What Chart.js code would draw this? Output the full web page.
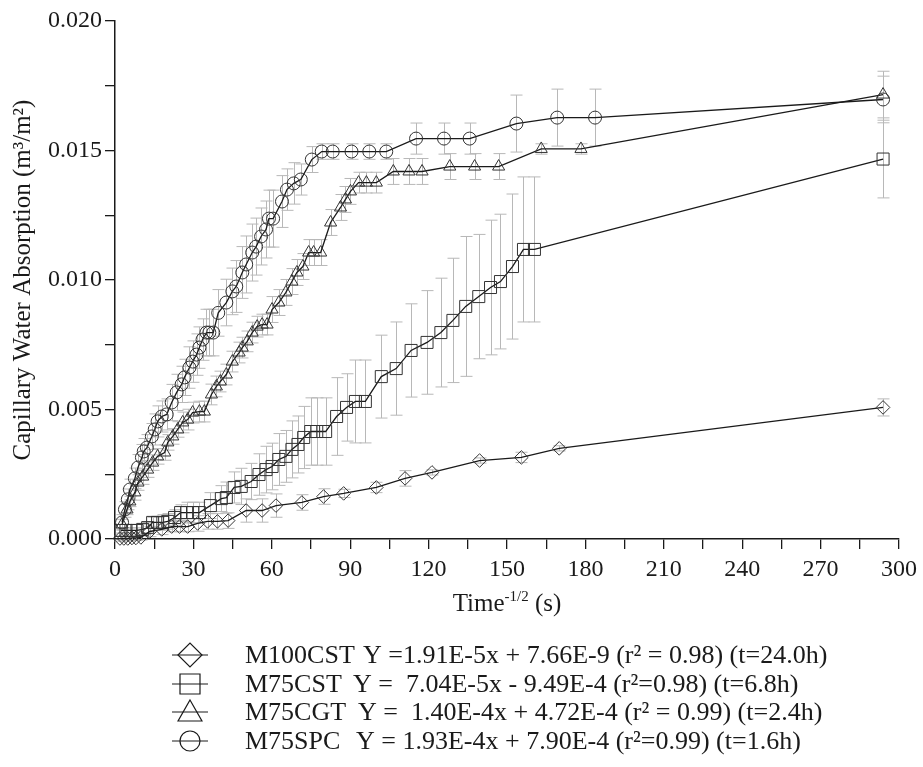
<!DOCTYPE html>
<html>
<head>
<meta charset="utf-8">
<script src="https://cdn.jsdelivr.net/npm/chart.js@4.4.1/dist/chart.umd.min.js"></script>
<style>
  html, body { margin: 0; padding: 0; background: #fff; }
</style>
</head>
<body>
<canvas id="chart" width="923" height="767"></canvas>
<script>
// --- DATA ---
// x = Time^-1/2 (s), y = capillary water absorption (m3/m2), err = +/- error bar
const m100cstX = [1.9, 3.4, 4.9, 6.5, 8.0, 9.9, 13.3, 17.9, 21.7, 24.7,
  27.8, 31.6, 35.4, 39.2, 43.3, 50.2, 56.3, 61.6, 71.5, 79.8,
  87.5, 100.0, 111.0, 121.3, 139.5, 155.5, 170.0, 293.9];
const m100cstY = [0.00002, 0.00002, 0.00002, 0.00004, 0.00004, 0.00006, 0.00029, 0.00037, 0.00048, 0.00048,
  0.00048, 0.0006, 0.00068, 0.00068, 0.00071, 0.0011, 0.0011, 0.00129, 0.00141, 0.00164,
  0.00176, 0.00199, 0.00234, 0.00257, 0.00303, 0.00315, 0.0035, 0.00508];
const m100cstErr = [0.0001, 0.0001, 0.0001, 0.0001, 0.0001, 0.0001, 0.0002, 0.0002, 0.0002, 0.0002,
  0.0002, 0.0003, 0.0003, 0.0003, 0.0003, 0.00045, 0.00045, 0.00045, 0.0003, 0.0003,
  0.00016, 0.0002, 0.0003, 0.0001, 0.0001, 0.0002, 0.0001, 0.00033];

const m75cstX = [2.3, 4.2, 6.1, 8.4, 10.6, 12.5, 14.4, 16.3, 18.3, 20.2,
  22.8, 25.1, 27.4, 29.7, 32.3, 36.5, 40.7, 42.6, 45.6, 48.3,
  52.1, 55.1, 57.8, 60.1, 62.7, 65.4, 67.7, 70.0, 72.2, 74.9,
  77.2, 80.6, 84.8, 88.6, 92.0, 95.8, 101.9, 107.6, 113.3, 119.4,
  124.7, 129.3, 134.2, 139.2, 143.7, 147.5, 152.1, 156.3, 160.5, 293.9];
const m75cstY = [0.00033, 0.00033, 0.00033, 0.00033, 0.00037, 0.00044, 0.00064, 0.00064, 0.00064, 0.00068,
  0.00083, 0.00102, 0.00102, 0.00102, 0.00102, 0.00129, 0.00156, 0.0016, 0.00199, 0.00203,
  0.00222, 0.00249, 0.00268, 0.0028, 0.00307, 0.00319, 0.00346, 0.00365, 0.00392, 0.00415,
  0.00415, 0.00415, 0.00473, 0.00508, 0.00531, 0.00531, 0.00627, 0.00658, 0.00728, 0.00759,
  0.00797, 0.00844, 0.00898, 0.00936, 0.00971, 0.00994, 0.01052, 0.01118, 0.01118, 0.01467];
const m75cstErr = [0.0001, 0.0001, 0.0001, 0.0001, 0.0002, 0.0002, 0.0002, 0.0002, 0.0003, 0.0003,
  0.0003, 0.0003, 0.0004, 0.0004, 0.0004, 0.0005, 0.0005, 0.0006, 0.0006, 0.0007,
  0.0007, 0.0008, 0.0009, 0.0009, 0.001, 0.001, 0.0011, 0.0011, 0.0012, 0.0013,
  0.0013, 0.0013, 0.0015, 0.0013, 0.0016, 0.0016, 0.0016, 0.0018, 0.0018, 0.002,
  0.0021, 0.0024, 0.0027, 0.0024, 0.0026, 0.0026, 0.0028, 0.0028, 0.0028, 0.0015];

const m75cgtX = [2.7, 4.6, 5.7, 7.6, 8.8, 10.6, 12.5, 14.4, 16.3, 19.0,
  20.2, 22.1, 24.0, 25.9, 27.8, 29.7, 32.3, 34.2, 36.9, 38.8,
  40.3, 42.6, 44.9, 47.5, 48.7, 50.6, 52.5, 54.4, 56.3, 58.2,
  60.1, 62.7, 65.4, 67.7, 69.6, 71.9, 74.1, 76.0, 78.7, 82.5,
  86.3, 88.2, 90.1, 93.2, 96.2, 100.0, 106.5, 112.5, 117.5, 128.1,
  137.6, 146.8, 163.1, 178.3, 293.9];
const m75cgtY = [0.00056, 0.00114, 0.00145, 0.0018, 0.00218, 0.00241, 0.00268, 0.00295, 0.00319, 0.00334,
  0.00373, 0.00396, 0.00423, 0.0045, 0.00461, 0.00488, 0.00492, 0.00492, 0.00558, 0.00589,
  0.00608, 0.00635, 0.00685, 0.0072, 0.00739, 0.00763, 0.00797, 0.0082, 0.00828, 0.00828,
  0.00886, 0.00913, 0.00952, 0.00994, 0.01029, 0.01052, 0.01106, 0.01106, 0.01106, 0.01222,
  0.0128, 0.01311, 0.01342, 0.01376, 0.01376, 0.01376, 0.01419, 0.01419, 0.01419, 0.01438,
  0.01438, 0.01438, 0.01506, 0.01506, 0.01716];
const m75cgtErr = [0.0002, 0.0002, 0.0002, 0.0003, 0.0003, 0.0003, 0.0003, 0.0003, 0.0003, 0.0003,
  0.0003, 0.0003, 0.0003, 0.0004, 0.0004, 0.0004, 0.0004, 0.0004, 0.0004, 0.0004,
  0.0004, 0.0004, 0.0004, 0.0004, 0.0004, 0.0004, 0.0004, 0.0004, 0.0004, 0.0004,
  0.0005, 0.0005, 0.0005, 0.0005, 0.0005, 0.0005, 0.0005, 0.0005, 0.0005, 0.0005,
  0.0005, 0.0005, 0.0005, 0.0004, 0.0004, 0.0004, 0.0005, 0.0005, 0.0005, 0.0005,
  0.0005, 0.0005, 0.0002, 0.0002, 0.0009];

const m75spcX = [2.7, 3.8, 4.9, 5.7, 7.6, 8.8, 10.3, 11.0, 12.2, 14.1,
  15.2, 16.3, 17.9, 19.8, 21.7, 23.6, 25.5, 26.6, 28.5, 29.7,
  31.2, 32.3, 33.5, 35.0, 36.1, 37.6, 39.5, 42.6, 44.9, 46.4,
  48.7, 50.2, 52.5, 54.0, 55.9, 57.8, 58.9, 60.5, 63.9, 65.8,
  68.4, 71.1, 75.3, 79.1, 83.3, 90.5, 97.3, 103.8, 115.2, 125.9,
  135.7, 153.6, 169.2, 183.7, 293.9];
const m75spcY = [0.00064, 0.00114, 0.00153, 0.00191, 0.00234, 0.00276, 0.00315, 0.00338, 0.00353, 0.00396,
  0.00423, 0.00454, 0.00473, 0.00481, 0.00527, 0.00566, 0.00597, 0.00624, 0.00662, 0.00685,
  0.00712, 0.00739, 0.0077, 0.00797, 0.00797, 0.00797, 0.00873, 0.00913, 0.00956, 0.00975,
  0.01029, 0.0106, 0.01106, 0.01129, 0.01168, 0.01195, 0.01237, 0.01237, 0.01303, 0.01349,
  0.01373, 0.01388, 0.01465, 0.01496, 0.01496, 0.01496, 0.01496, 0.01496, 0.01546, 0.01546,
  0.01546, 0.01604, 0.01627, 0.01627, 0.01697];
const m75spcErr = [0.0003, 0.0003, 0.0004, 0.0004, 0.0004, 0.0005, 0.0005, 0.0005, 0.0005, 0.0005,
  0.0006, 0.0006, 0.0006, 0.0006, 0.0007, 0.0007, 0.0007, 0.0007, 0.0008, 0.0008,
  0.0008, 0.0008, 0.0008, 0.0009, 0.0009, 0.0009, 0.0009, 0.0009, 0.0009, 0.001,
  0.001, 0.0011, 0.0011, 0.0011, 0.0011, 0.0011, 0.0011, 0.0011, 0.001, 0.0008,
  0.0008, 0.0006, 0.0005, 0.0003, 0.0003, 0.0003, 0.0003, 0.0003, 0.0006, 0.0006,
  0.0006, 0.0011, 0.0011, 0.0011, 0.0009];

// Legend text
const seriesNames = ['M100CST', 'M75CST', 'M75CGT', 'M75SPC'];
const seriesEquations = [
  'Y =1.91E-5x + 7.66E-9 (r\u00B2 = 0.98) (t=24.0h)',
  'Y =  7.04E-5x - 9.49E-4 (r\u00B2=0.98) (t=6.8h)',
  'Y =  1.40E-4x + 4.72E-4 (r\u00B2 = 0.99) (t=2.4h)',
  'Y = 1.93E-4x + 7.90E-4 (r\u00B2=0.99) (t=1.6h)'
];
const seriesMarkers = ['rectRot', 'rect', 'triangle', 'circle'];

// Axis ticks
const xMin = 0, xMax = 300, xStep = 15, xLabelStep = 30;
const yMin = 0, yMax = 0.02, yStep = 0.0025, yLabelStep = 0.005;

const FONT = "'Liberation Serif', 'Times New Roman', serif";
const INK = '#1a1a1a';

function toPoints(xs, ys) {
  return xs.map((x, i) => ({ x: x, y: ys[i] }));
}

function makeDataset(label, xs, ys, errs, style, radius) {
  return {
    label: label,
    data: toPoints(xs, ys),
    errors: errs,
    borderColor: INK,
    borderWidth: 1.3,
    pointStyle: style,
    pointRadius: radius,
    pointHoverRadius: radius,
    pointBorderColor: '#333',
    pointBorderWidth: 1,
    pointBackgroundColor: 'rgba(0,0,0,0)',
    tension: 0,
    fill: false,
    clip: false
  };
}

// --- PLUGINS ---
// error bars drawn under the lines and markers
const errorBars = {
  id: 'errorBars',
  beforeDatasetsDraw(chart) {
    const ctx = chart.ctx;
    const xs = chart.scales.x, ys = chart.scales.y;
    ctx.save();
    ctx.strokeStyle = '#b8b8b8';
    ctx.lineWidth = 1;
    chart.data.datasets.forEach(ds => {
      ds.data.forEach((p, i) => {
        const e = ds.errors[i];
        const px = Math.round(xs.getPixelForValue(p.x)) + 0.5;
        const top = ys.getPixelForValue(p.y + e);
        const bot = ys.getPixelForValue(p.y - e);
        ctx.beginPath();
        ctx.moveTo(px, top);
        ctx.lineTo(px, bot);
        ctx.moveTo(px - 6, top);
        ctx.lineTo(px + 6, top);
        ctx.moveTo(px - 6, bot);
        ctx.lineTo(px + 6, bot);
        ctx.stroke();
      });
    });
    ctx.restore();
  }
};

function drawMarker(ctx, style, cx, cy, r) {
  ctx.beginPath();
  if (style === 'rectRot') {
    ctx.moveTo(cx - r, cy);
    ctx.lineTo(cx, cy - r);
    ctx.lineTo(cx + r, cy);
    ctx.lineTo(cx, cy + r);
    ctx.closePath();
  } else if (style === 'rect') {
    ctx.rect(cx - r, cy - r, 2 * r, 2 * r);
  } else if (style === 'triangle') {
    const h = r * Math.sqrt(3) / 2;
    ctx.moveTo(cx, cy - r);
    ctx.lineTo(cx + h * 1.15, cy + r * 0.75);
    ctx.lineTo(cx - h * 1.15, cy + r * 0.75);
    ctx.closePath();
  } else {
    ctx.arc(cx, cy, r, 0, Math.PI * 2);
  }
  ctx.stroke();
}

// x title with superscript, and the legend block under the chart
const annotations = {
  id: 'annotations',
  afterDraw(chart) {
    const ctx = chart.ctx;
    const area = chart.chartArea;
    ctx.save();
    ctx.fillStyle = INK;
    ctx.textBaseline = 'alphabetic';

    // x axis title: Time^-1/2 (s)
    const big = '25px ' + FONT, small = '15px ' + FONT;
    ctx.font = big;
    const w1 = ctx.measureText('Time').width;
    const w3 = ctx.measureText(' (s)').width;
    ctx.font = small;
    const w2 = ctx.measureText('-1/2').width;
    let tx = (area.left + area.right) / 2 - (w1 + w2 + w3) / 2;
    const ty = 611;
    ctx.font = big;
    ctx.fillText('Time', tx, ty);
    tx += w1;
    ctx.font = small;
    ctx.fillText('-1/2', tx, ty - 10);
    tx += w2;
    ctx.font = big;
    ctx.fillText(' (s)', tx, ty);

    // legend
    const rowY = [655, 684, 712, 741];
    const eqX = [363, 353, 358, 356];
    const markR = [12, 10, 12, 10];
    ctx.strokeStyle = INK;
    ctx.lineWidth = 1.2;
    ctx.textBaseline = 'middle';
    ctx.font = '26px ' + FONT;
    seriesNames.forEach((name, i) => {
      const y = rowY[i];
      ctx.beginPath();
      ctx.moveTo(172, y);
      ctx.lineTo(208, y);
      ctx.stroke();
      drawMarker(ctx, seriesMarkers[i], 190, y, markR[i]);
      ctx.fillText(name, 245, y + 1);
      ctx.fillText(seriesEquations[i], eqX[i], y + 1);
    });
    ctx.restore();
  }
};

// --- CHART ---
Chart.defaults.font.family = FONT;
Chart.defaults.color = INK;

new Chart(document.getElementById('chart'), {
  type: 'line',
  data: {
    datasets: [
      makeDataset('M100CST', m100cstX, m100cstY, m100cstErr, 'rectRot', 6.8),
      makeDataset('M75CST', m75cstX, m75cstY, m75cstErr, 'rect', 8.5),
      makeDataset('M75CGT', m75cgtX, m75cgtY, m75cgtErr, 'triangle', 7),
      makeDataset('M75SPC', m75spcX, m75spcY, m75spcErr, 'circle', 6.5)
    ]
  },
  options: {
    responsive: false,
    animation: false,
    layout: { padding: { left: 0, right: 19, top: 21, bottom: 0 } },
    plugins: {
      legend: { display: false },
      tooltip: { enabled: false }
    },
    scales: {
      x: {
        type: 'linear',
        min: xMin,
        max: xMax,
        afterFit: scale => { scale.height = 228; },
        ticks: {
          stepSize: xStep,
          autoSkip: false,
          maxRotation: 0,
          padding: 6,
          font: { size: 24 },
          color: INK,
          callback: v => (v % xLabelStep === 0 ? String(v) : '')
        },
        grid: { drawOnChartArea: false, drawTicks: true, tickLength: 10, color: INK, lineWidth: 1.3 },
        border: { display: true, color: INK, width: 1.5 }
      },
      y: {
        min: yMin,
        max: yMax,
        afterFit: scale => { scale.width = 115; },
        ticks: {
          stepSize: yStep,
          autoSkip: false,
          padding: 3,
          font: { size: 24 },
          color: INK,
          callback: v => {
            const k = v / yLabelStep;
            return Math.abs(k - Math.round(k)) < 1e-6 ? v.toFixed(3) : '';
          }
        },
        grid: { drawOnChartArea: false, drawTicks: true, tickLength: 10, color: INK, lineWidth: 1.3 },
        border: { display: true, color: INK, width: 1.5 },
        title: {
          display: true,
          text: 'Capillary Water Absorption (m\u00B3/m\u00B2)',
          font: { size: 25 },
          color: INK,
          padding: { top: 8, bottom: 0 }
        }
      }
    }
  },
  plugins: [errorBars, annotations]
});
</script>
</body>
</html>
